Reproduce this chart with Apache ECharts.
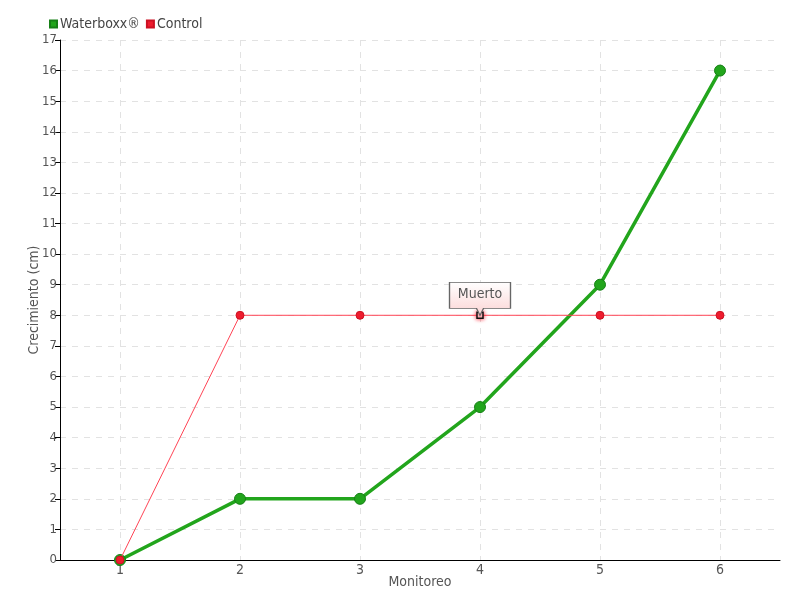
<!DOCTYPE html>
<html>
<head>
<meta charset="utf-8">
<script src="https://cdn.jsdelivr.net/npm/echarts@6/dist/echarts.min.js"></script>
<style>html,body{margin:0;padding:0;background:#fff}#c{width:800px;height:600px}</style>
</head>
<body>
<div id="c"></div>
<script>
const categories = ['1', '2', '3', '4', '5', '6'];
const waterboxx = [0, 2, 2, 5, 9, 16];
const control = [0, 8, 8, 8, 8, 8];
const yTicks = { min: 0, max: 17, interval: 1 };
const noteIndex = 3;
const noteText = 'Muerto';

const FONT = "'Liberation Sans Narrow', 'DejaVu Sans Condensed', 'Roboto', sans-serif";
const chart = echarts.init(document.getElementById('c'));

const controlData = control.map((v, i) => i === noteIndex ? {
  value: v, symbol: 'rect', symbolSize: 6,
  itemStyle: { color: '#ffffff', borderColor: '#111', borderWidth: 1.5, shadowColor: '#ff2233', shadowBlur: 4 }
} : v);

chart.setOption({
  animation: false,
  textStyle: { fontFamily: FONT },
  legend: {
    left: 44, top: 12, itemWidth: 7, itemHeight: 7, itemGap: 6, icon: 'rect',
    textStyle: { fontFamily: FONT, fontSize: 14, color: '#444', padding: [0, 0, 0, -2] },
    data: ['Waterboxx®', 'Control']
  },
  grid: { left: 60, right: 20, top: 40, bottom: 40, containLabel: false },
  xAxis: {
    type: 'category', data: categories, boundaryGap: true,
    name: 'Monitoreo', nameLocation: 'middle', nameGap: 15, nameMoveOverlap: false,
    nameTextStyle: { fontFamily: FONT, fontSize: 14, color: '#555' },
    axisLine: { lineStyle: { color: '#000', width: 1 } },
    axisTick: { alignWithLabel: true, length: 4, lineStyle: { color: '#000' } },
    axisLabel: { fontFamily: FONT, fontSize: 14, color: '#555', margin: 3 },
    splitLine: { show: true, alignWithLabel: true, lineStyle: { color: '#e2e2e2', type: [6, 6] } }
  },
  yAxis: {
    type: 'value', min: yTicks.min, max: yTicks.max, interval: yTicks.interval,
    name: 'Crecimiento (cm)', nameLocation: 'middle', nameGap: 19, nameMoveOverlap: false,
    nameTextStyle: { fontFamily: FONT, fontSize: 14, color: '#555' },
    axisLine: { show: true, lineStyle: { color: '#000', width: 1 } },
    axisTick: { show: true, length: 5, lineStyle: { color: '#000' } },
    axisLabel: { fontFamily: FONT, fontSize: 13, color: '#555', margin: 3 },
    splitLine: { show: true, lineStyle: { color: '#e2e2e2', type: [6, 6] } }
  },
  series: [
    {
      name: 'Waterboxx®', type: 'line', data: waterboxx, z: 2,
      color: '#1f9a1a',
      symbol: 'circle', symbolSize: 11,
      lineStyle: { color: '#22a51c', width: 3.5 },
      itemStyle: { color: '#22a51c', borderColor: '#168016', borderWidth: 1 }
    },
    {
      name: 'Control', type: 'line', data: controlData, z: 3,
      color: '#ee1c2e',
      symbol: 'circle', symbolSize: 8,
      lineStyle: { color: '#ff4455', width: 1 },
      itemStyle: { color: '#ee1c2e', borderColor: '#cc1122', borderWidth: 1 },
      markPoint: {
        silent: true,
        data: [{
          coord: [noteIndex, control[noteIndex]],
          symbol: 'path://M0,0 L61,0 L61,26 L34,26 L30.5,33 L27,26 L0,26 Z',
          symbolSize: [61, 33],
          symbolOffset: [0, -16.5],
          itemStyle: {
            color: new echarts.graphic.LinearGradient(0, 0, 0, 1, [
              { offset: 0, color: '#ffffff' }, { offset: 1, color: '#fbd4d4' }
            ]),
            borderColor: '#666', borderWidth: 1
          },
          label: {
            show: true, position: 'inside', offset: [0, -4],
            formatter: noteText, fontFamily: FONT, fontSize: 14, color: '#555'
          }
        }]
      }
    }
  ]
});
</script>
</body>
</html>
